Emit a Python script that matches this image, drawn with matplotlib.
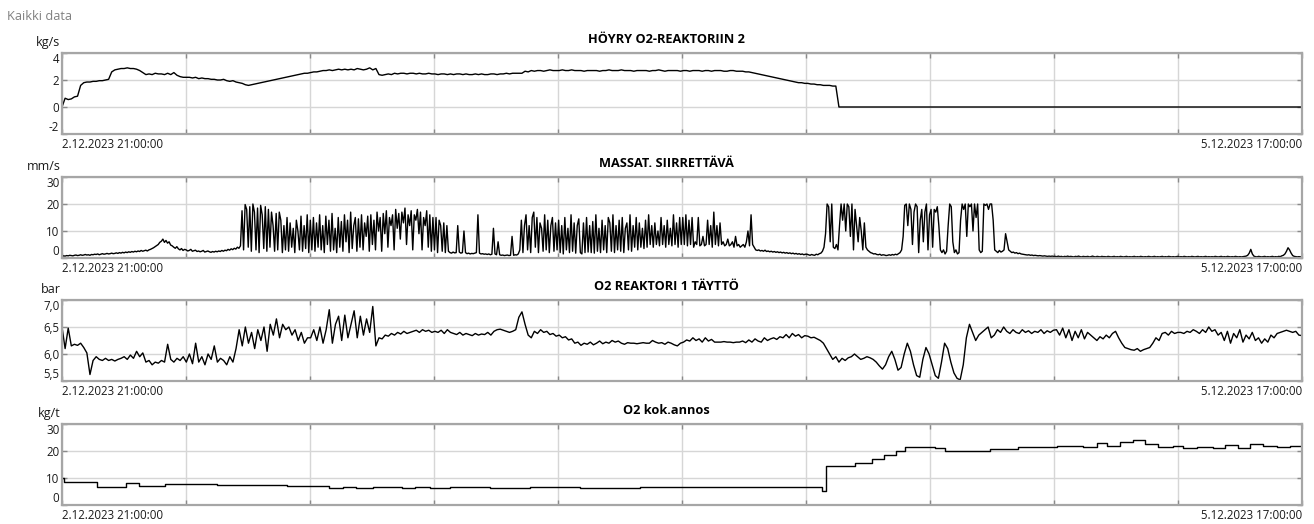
import numpy as np
import matplotlib.pyplot as plt

plt.rcParams['font.family'] = ['Open Sans', 'DejaVu Sans']

START_LABEL = "2.12.2023 21:00:00"
END_LABEL = "5.12.2023 17:00:00"
SPAN_H = 68.0  # hours from start label to end label

# steam to O2 reactor 2 [kg/s], 40 samples per grid column
steam_kgs = [
    0.0, 0.65, 0.55, 0.6, 0.75, 0.8, 1.6, 1.8, 1.85, 1.85, 1.9, 1.9, 1.95, 1.95, 2.0, 2.05, 2.6, 2.75, 2.8, 2.85,
    2.85, 2.9, 2.85, 2.85, 2.8, 2.7, 2.55, 2.4, 2.45, 2.4, 2.5, 2.45, 2.45, 2.4, 2.5, 2.4, 2.55, 2.35, 2.25, 2.2,
    2.2, 2.2, 2.15, 2.2, 2.1, 2.15, 2.1, 2.1, 2.05, 2.05, 2.0, 2.0, 2.05, 1.95, 1.9, 1.95, 1.85, 1.8, 1.75, 1.65,
    1.6, 1.65, 1.7, 1.75, 1.8, 1.85, 1.9, 1.95, 2.0, 2.05, 2.1, 2.15, 2.2, 2.25, 2.3, 2.35, 2.4, 2.45, 2.5, 2.5,
    2.55, 2.6, 2.6, 2.65, 2.7, 2.7, 2.75, 2.7, 2.75, 2.8, 2.75, 2.8, 2.75, 2.8, 2.75, 2.85, 2.8, 2.75, 2.8, 2.9,
    2.75, 2.85, 2.4, 2.35, 2.4, 2.45, 2.4, 2.5, 2.45, 2.5, 2.5, 2.45, 2.5, 2.5, 2.45, 2.5, 2.45, 2.45, 2.5, 2.45,
    2.45, 2.4, 2.45, 2.45, 2.4, 2.45, 2.4, 2.45, 2.45, 2.4, 2.45, 2.4, 2.4, 2.45, 2.4, 2.45, 2.4, 2.4, 2.45, 2.45,
    2.4, 2.45, 2.45, 2.5, 2.45, 2.5, 2.5, 2.5, 2.5, 2.65, 2.6, 2.7, 2.65, 2.7, 2.7, 2.65, 2.7, 2.75, 2.7, 2.7,
    2.7, 2.75, 2.7, 2.7, 2.75, 2.7, 2.7, 2.7, 2.65, 2.7, 2.7, 2.7, 2.7, 2.65, 2.7, 2.7, 2.75, 2.7, 2.7, 2.7,
    2.75, 2.7, 2.7, 2.7, 2.65, 2.7, 2.7, 2.7, 2.7, 2.65, 2.7, 2.7, 2.75, 2.7, 2.65, 2.7, 2.7, 2.7, 2.7, 2.65,
    2.7, 2.7, 2.65, 2.7, 2.7, 2.7, 2.65, 2.7, 2.7, 2.65, 2.7, 2.7, 2.7, 2.65, 2.65, 2.7, 2.7, 2.65, 2.65, 2.65,
    2.6, 2.6, 2.55, 2.5, 2.45, 2.4, 2.35, 2.3, 2.25, 2.2, 2.15, 2.1, 2.05, 2.0, 1.95, 1.9, 1.85, 1.8, 1.8, 1.75,
    1.75, 1.7, 1.7, 1.65, 1.65, 1.6, 1.6, 1.6, 1.55, 1.55, 0.0, 0.0, 0.0, 0.0, 0.0, 0.0, 0.0, 0.0, 0.0, 0.0,
    0.0, 0.0, 0.0, 0.0, 0.0, 0.0, 0.0, 0.0, 0.0, 0.0, 0.0, 0.0, 0.0, 0.0, 0.0, 0.0, 0.0, 0.0, 0.0, 0.0,
    0.0, 0.0, 0.0, 0.0, 0.0, 0.0, 0.0, 0.0, 0.0, 0.0, 0.0, 0.0, 0.0, 0.0, 0.0, 0.0, 0.0, 0.0, 0.0, 0.0,
    0.0, 0.0, 0.0, 0.0, 0.0, 0.0, 0.0, 0.0, 0.0, 0.0, 0.0, 0.0, 0.0, 0.0, 0.0, 0.0, 0.0, 0.0, 0.0, 0.0,
    0.0, 0.0, 0.0, 0.0, 0.0, 0.0, 0.0, 0.0, 0.0, 0.0, 0.0, 0.0, 0.0, 0.0, 0.0, 0.0, 0.0, 0.0, 0.0, 0.0,
    0.0, 0.0, 0.0, 0.0, 0.0, 0.0, 0.0, 0.0, 0.0, 0.0, 0.0, 0.0, 0.0, 0.0, 0.0, 0.0, 0.0, 0.0, 0.0, 0.0,
    0.0, 0.0, 0.0, 0.0, 0.0, 0.0, 0.0, 0.0, 0.0, 0.0, 0.0, 0.0, 0.0, 0.0, 0.0, 0.0, 0.0, 0.0, 0.0, 0.0,
    0.0, 0.0, 0.0, 0.0, 0.0, 0.0, 0.0, 0.0, 0.0, 0.0, 0.0, 0.0, 0.0, 0.0, 0.0, 0.0, 0.0, 0.0, 0.0, 0.0,
]

# pulp transfer speed [mm/s], 80 samples per grid column
transfer_mms = [
    # column 1
    0.6, 0.8, 0.7, 0.9, 0.8, 1.0, 0.9, 0.8, 1.0, 1.1, 0.9, 1.0, 1.2, 1.0, 1.1, 1.3, 1.1, 1.2, 1.0, 1.3,
    1.2, 1.4, 1.3, 1.5, 1.2, 1.4, 1.6, 1.4, 1.5, 1.7, 1.5, 1.6, 1.8, 1.6, 1.7, 1.9, 1.7, 2.0, 1.8, 2.1,
    1.9, 2.2, 2.0, 2.3, 2.1, 2.4, 2.2, 2.5, 2.3, 2.6, 2.4, 2.8, 2.5, 2.7, 2.9, 2.6, 3.0, 3.2, 3.5, 3.8,
    4.2, 4.6, 5.0, 5.8, 6.2, 7.0, 5.8, 6.5, 5.5, 6.0, 4.8, 4.5, 4.0, 3.6, 4.2, 3.4, 3.0, 3.5, 2.8, 3.2,
    # column 2
    3.0, 2.6, 2.8, 3.2, 2.5, 2.7, 2.9, 2.4, 2.6, 2.3, 2.5, 2.8, 2.2, 2.4, 2.6, 2.3, 2.1, 2.4, 2.2, 2.5,
    2.3, 2.6, 2.4, 2.8, 2.5, 2.9, 2.7, 3.2, 2.9, 3.4, 3.1, 3.6, 3.3, 4.0, 3.6, 4.5,
    17.5, 3.0, 19.8, 18.0, 4.0, 19.0, 2.5, 20.0, 17.0, 3.0, 18.5, 2.0, 19.5, 16.0, 3.5, 19.0, 2.5, 18.0, 4.0, 17.0,
    12.0, 2.5, 16.5, 3.0, 17.0, 14.0, 2.0, 12.0, 3.0, 15.0, 2.5, 13.0, 4.0, 11.0, 2.0, 14.0, 10.0, 3.0, 15.5, 2.5,
    12.0, 3.5, 16.0, 2.0,
    # column 3
    14.0, 3.0, 15.0, 2.5, 13.0, 4.0, 16.0, 3.0, 12.0, 2.0, 15.5, 5.0, 14.0, 2.5, 16.5, 3.0, 11.0, 2.0, 15.0, 4.0,
    13.5, 2.5, 16.0, 6.0, 14.0, 2.0, 17.0, 3.5, 12.0, 15.0, 2.5, 14.5, 4.0, 16.0, 3.0, 13.0, 8.0, 15.5, 2.5, 16.0,
    5.0, 14.0, 3.0, 17.0, 10.0, 15.0, 2.5, 16.5, 9.0, 17.5, 4.0, 15.0, 12.0, 16.0, 3.0, 18.0, 11.0, 16.5, 7.0, 17.0,
    13.0, 18.5, 5.0, 16.0, 12.0, 17.5, 3.0, 16.0, 14.0, 18.0, 9.0, 17.0, 3.0, 15.0, 12.0, 17.5, 4.0, 16.0, 2.5, 15.0,
    # column 4
    3.0, 15.0, 2.0, 14.0, 12.0, 2.5, 13.0, 2.0, 12.0, 2.5, 2.0, 1.8, 2.2, 1.9, 2.0, 12.0, 2.2, 1.8, 2.0, 10.0,
    2.0, 1.6, 1.8, 1.5, 1.7, 1.6, 1.8, 2.0, 16.0, 1.8, 1.5, 1.6, 1.4, 1.5, 1.3, 1.5, 1.2, 1.4, 11.0, 1.5,
    1.2, 6.0, 1.2, 1.0, 1.1, 0.9, 1.0, 1.1, 0.9, 1.0, 8.0, 1.0, 1.2, 1.1, 1.5, 3.0, 14.0, 2.0, 12.0, 16.0,
    3.0, 12.0, 2.0, 15.0, 17.0, 4.0, 15.0, 2.0, 13.0, 11.0, 2.5, 16.0, 3.0, 14.0, 2.0, 12.0, 15.0, 2.5, 13.0, 3.0,
    # column 5
    14.0, 2.0, 12.0, 1.5, 15.0, 3.0, 11.0, 2.0, 16.0, 2.5, 13.0, 1.8, 12.0, 14.5, 2.0, 1.5, 13.0, 2.0, 15.0, 2.2,
    12.0, 2.0, 13.5, 1.8, 16.0, 2.5, 11.0, 2.0, 14.0, 3.0, 12.0, 2.0, 15.0, 13.0, 2.5, 16.0, 2.0, 12.0, 3.0, 14.0,
    2.5, 15.0, 2.0, 11.0, 13.0, 3.0, 16.0, 2.5, 12.0, 4.0, 15.0, 3.0, 13.0, 4.0, 11.0, 3.5, 14.0, 4.0, 16.0, 5.0,
    12.0, 4.0, 13.0, 5.0, 10.0, 4.5, 15.0, 5.0, 12.0, 4.0, 14.0, 5.0, 11.0, 4.5, 16.0, 5.0, 13.0, 4.0, 15.0, 5.0,
    # column 6
    15.0, 5.0, 16.0, 4.5, 14.0, 5.0, 15.0, 4.0, 6.0, 5.0, 15.0, 4.5, 5.0, 8.0, 4.5, 5.0, 14.0, 5.0, 12.0, 4.0,
    17.0, 5.0, 12.0, 4.5, 13.0, 5.0, 6.0, 4.5, 5.0, 7.0, 4.5, 5.0, 6.0, 4.0, 8.0, 4.5, 5.0, 4.0, 4.5, 5.0,
    4.0, 6.0, 10.0, 4.5, 16.0, 5.0, 4.0, 3.0, 2.8, 3.0, 2.6, 2.8, 2.5, 2.9, 2.4, 2.6, 2.3, 2.5, 2.2, 2.4,
    2.1, 2.3, 2.0, 2.2, 1.9, 2.1, 1.8, 2.0, 1.7, 1.9, 1.6, 1.8, 1.5, 1.7, 1.4, 1.6, 1.3, 1.5, 1.2, 1.4,
    # column 7
    1.4, 1.2, 1.0, 1.3, 1.1, 1.0, 1.4, 1.2, 1.6, 1.8, 2.5, 4.0, 9.0, 20.0, 19.0, 6.0, 20.0, 4.0, 3.5, 5.0,
    3.0, 12.0, 20.0, 14.0, 20.0, 10.0, 20.0, 19.0, 8.0, 20.0, 3.0, 18.0, 12.0, 6.0, 15.0, 10.0, 3.0, 13.0, 4.0, 3.0,
    2.5, 2.0, 1.8, 1.5, 1.6, 1.3, 1.2, 1.4, 1.0, 1.2, 1.1, 0.9, 1.0, 1.2, 1.0, 1.3, 1.1, 1.4, 1.2, 1.6,
    2.0, 3.0, 8.0, 19.5, 20.0, 12.0, 20.0, 18.0, 5.0, 17.0, 20.0, 19.0, 2.0, 14.0, 18.0, 6.0, 17.0, 20.0, 3.0, 16.0,
    # column 8
    18.0, 4.0, 18.0, 17.0, 19.0, 12.0, 3.0, 2.0, 3.0, 1.5, 2.5, 12.0, 20.0, 19.0, 6.0, 2.0, 3.0, 1.5, 2.0, 14.0,
    20.0, 18.0, 20.0, 8.0, 20.0, 19.0, 20.0, 10.0, 20.0, 15.0, 20.0, 3.0, 2.0, 2.5, 20.0, 19.5, 20.0, 18.0, 20.0, 20.0,
    14.0, 3.0, 2.5, 2.0, 2.8, 2.2, 2.5, 3.0, 9.0, 6.0, 3.0, 2.5, 2.0, 2.2, 1.8, 2.0, 1.6, 1.8, 1.5, 1.4,
    1.3, 1.2, 1.1, 1.2, 1.0, 1.1, 0.9, 1.0, 0.9, 0.8, 0.9, 0.8, 0.7, 0.8, 0.7, 0.6, 0.7, 0.6, 0.7, 0.6,
    # column 9
    0.6, 0.5, 0.7, 0.5, 0.6, 0.4, 0.6, 0.5, 0.7, 0.5, 0.6, 0.5, 0.4, 0.6, 0.5, 0.7, 0.5, 0.4, 0.6, 0.5,
    0.5, 0.6, 0.4, 0.5, 0.7, 0.5, 0.4, 0.6, 0.5, 0.4, 0.6, 0.5, 0.5, 0.4, 0.6, 0.5, 0.4, 0.5, 0.6, 0.4,
    0.5, 0.4, 0.6, 0.5, 0.4, 0.5, 0.6, 0.4, 0.5, 0.4, 0.5, 0.6, 0.4, 0.5, 0.4, 0.6, 0.5, 0.4, 0.5, 0.4,
    0.6, 0.5, 0.4, 0.5, 0.6, 0.4, 0.5, 0.4, 0.5, 0.6, 0.4, 0.5, 0.4, 0.6, 0.5, 0.4, 0.5, 0.4, 0.5, 0.6,
    # column 10
    0.4, 0.5, 0.4, 0.6, 0.5, 0.4, 0.5, 0.4, 0.6, 0.5, 0.4, 0.5, 0.6, 0.4, 0.5, 0.4, 0.5, 0.6, 0.4, 0.5,
    0.4, 0.5, 0.4, 0.6, 0.5, 0.4, 0.5, 0.6, 0.4, 0.5, 0.4, 0.6, 0.5, 0.4, 0.5, 0.4, 0.6, 0.5, 0.4, 0.5,
    0.4, 0.5, 0.6, 0.7, 1.0, 1.8, 3.2, 1.5, 0.7, 0.5, 0.4, 0.6, 0.5, 0.4, 0.5, 0.6, 0.4, 0.5, 0.4, 0.5,
    0.6, 0.4, 0.5, 0.4, 0.6, 0.5, 0.8, 1.0, 1.5, 2.5, 3.8, 3.0, 1.8, 0.9, 0.6, 0.5, 0.4, 0.5, 0.4, 0.5,
]

# reactor 1 fill pressure [bar], 40 samples per grid column
fill_bar = [
    6.50, 6.10, 6.48, 6.15, 6.18, 6.16, 6.20, 6.12, 6.02, 5.62, 5.88, 5.95, 5.90, 5.88, 5.92, 5.88, 5.90, 5.87, 5.90, 5.92,
    5.95, 5.90, 5.98, 5.92, 6.05, 5.95, 6.02, 5.85, 5.88, 5.80, 5.85, 5.83, 5.88, 5.85, 6.18, 5.90, 5.85, 5.92, 5.88, 5.95,
    5.85, 6.00, 5.82, 6.20, 5.85, 5.95, 5.80, 6.00, 5.90, 6.15, 5.85, 5.92, 5.88, 5.80, 5.95, 5.85, 6.10, 6.45, 6.15, 6.50,
    6.20, 6.40, 6.10, 6.45, 6.25, 6.50, 6.05, 6.55, 6.35, 6.65, 6.30, 6.55, 6.45, 6.50, 6.35, 6.45, 6.25, 6.40, 6.20, 6.30,
    6.30, 6.45, 6.25, 6.50, 6.20, 6.45, 6.82, 6.20, 6.55, 6.70, 6.25, 6.72, 6.30, 6.55, 6.80, 6.30, 6.70, 6.35, 6.65, 6.40,
    6.88, 6.15, 6.30, 6.28, 6.35, 6.33, 6.38, 6.35, 6.40, 6.37, 6.42, 6.38, 6.40, 6.42, 6.44, 6.40, 6.45, 6.42, 6.44, 6.40,
    6.42, 6.40, 6.44, 6.38, 6.45, 6.40, 6.38, 6.36, 6.40, 6.35, 6.38, 6.36, 6.34, 6.38, 6.35, 6.37, 6.36, 6.40, 6.35, 6.42,
    6.45, 6.46, 6.44, 6.42, 6.40, 6.42, 6.45, 6.68, 6.78, 6.55, 6.35, 6.30, 6.42, 6.38, 6.45, 6.40, 6.42, 6.36, 6.38, 6.33,
    6.35, 6.30, 6.32, 6.26, 6.28, 6.20, 6.22, 6.16, 6.20, 6.18, 6.22, 6.17, 6.20, 6.24, 6.19, 6.22, 6.20, 6.25, 6.22, 6.24,
    6.20, 6.18, 6.21, 6.20, 6.20, 6.19, 6.20, 6.21, 6.20, 6.20, 6.25, 6.22, 6.20, 6.21, 6.18, 6.22, 6.20, 6.17, 6.15, 6.20,
    6.22, 6.26, 6.24, 6.30, 6.25, 6.28, 6.22, 6.30, 6.24, 6.27, 6.22, 6.22, 6.22, 6.23, 6.22, 6.22, 6.21, 6.22, 6.22, 6.24,
    6.21, 6.26, 6.22, 6.28, 6.24, 6.22, 6.30, 6.25, 6.28, 6.30, 6.27, 6.32, 6.30, 6.36, 6.30, 6.38, 6.33, 6.36, 6.30, 6.34,
    6.33, 6.30, 6.31, 6.28, 6.25, 6.20, 6.10, 6.00, 5.90, 5.95, 5.85, 5.92, 5.88, 5.93, 5.95, 6.00, 5.95, 5.90, 5.92, 5.95,
    5.93, 5.90, 5.85, 5.78, 5.72, 5.80, 5.95, 6.05, 5.90, 5.70, 5.75, 6.00, 6.20, 6.05, 5.80, 5.60, 5.57, 5.90, 6.12, 6.00,
    5.80, 5.60, 5.55, 5.85, 6.20, 6.10, 5.85, 5.65, 5.55, 5.52, 5.80, 6.30, 6.55, 6.40, 6.25, 6.35, 6.40, 6.45, 6.50, 6.30,
    6.35, 6.45, 6.40, 6.50, 6.42, 6.38, 6.45, 6.40, 6.38, 6.45, 6.40, 6.43, 6.38, 6.42, 6.40, 6.45, 6.38, 6.43, 6.40, 6.44,
    6.45, 6.35, 6.48, 6.30, 6.45, 6.25, 6.42, 6.30, 6.45, 6.28, 6.40, 6.35, 6.30, 6.25, 6.32, 6.28, 6.35, 6.30, 6.38, 6.42,
    6.30, 6.20, 6.12, 6.10, 6.08, 6.07, 6.10, 6.05, 6.08, 6.10, 6.12, 6.20, 6.30, 6.25, 6.38, 6.40, 6.35, 6.42, 6.38, 6.40,
    6.40, 6.38, 6.42, 6.40, 6.45, 6.42, 6.38, 6.45, 6.40, 6.50, 6.42, 6.45, 6.35, 6.40, 6.25, 6.42, 6.20, 6.38, 6.30, 6.45,
    6.22, 6.35, 6.28, 6.40, 6.25, 6.30, 6.20, 6.28, 6.22, 6.35, 6.30, 6.38, 6.40, 6.42, 6.44, 6.42, 6.40, 6.42, 6.35, 6.34,
]

# O2 dose [kg/t]: hour of each setpoint change and the new level
dose_hours = [
    0.0, 0.11, 1.92, 3.51, 4.22, 5.65, 8.5, 12.34, 14.64, 15.41, 16.12, 17.05, 18.65, 19.36, 20.18,
    21.28, 23.47, 25.66, 28.41, 31.70, 34.99, 38.28, 40.20, 41.68, 41.90, 43.49, 44.42, 45.08, 45.74,
    46.23, 47.87, 48.42, 50.89, 52.43, 54.57, 55.99, 56.76, 57.31, 58.02, 58.73, 59.39, 60.10, 60.93,
    61.47, 62.24, 63.12, 63.78, 64.49, 65.15, 65.86, 66.63, 67.34, 68.0,
]
dose_kgt = [
    10.0, 8.4, 6.8, 8.0, 7.2, 7.6, 7.4, 6.9, 6.4, 6.7, 6.3, 6.6, 6.2, 6.6, 6.2,
    6.5, 6.3, 6.6, 6.4, 6.7, 6.5, 6.8, 6.6, 5.2, 14.5, 15.5, 17.0, 18.5, 20.0,
    21.5, 21.0, 20.0, 20.8, 21.4, 21.9, 21.4, 22.8, 21.9, 23.5, 24.1, 22.5, 21.4, 21.9,
    21.1, 21.4, 21.1, 22.1, 21.1, 22.6, 22.0, 21.4, 22.0, 22.0,
]

titles = ["HÖYRY O2-REAKTORIIN 2", "MASSAT. SIIRRETTÄVÄ", "O2 REAKTORI 1 TÄYTTÖ", "O2 kok.annos"]
units = ["kg/s", "mm/s", "bar", "kg/t"]
yticks = [[-2, 0, 2, 4], [0, 10, 20, 30], [5.5, 6.0, 6.5, 7.0], [0, 10, 20, 30]]
ytick_labels = [["-2", "0", "2", "4"], ["0", "10", "20", "30"],
                ["5,5", "6,0", "6,5", "7,0"], ["0", "10", "20", "30"]]

W, H = 1314, 524
fig = plt.figure(figsize=(W / 100, H / 100), dpi=100)
fig.patch.set_facecolor("white")
fig.text(7 / W, 1 - 16 / H, "Kaikki data", color="#808080", fontsize=9.2, va="center")

# plot boxes in pixels: left, top, right; each box is box_h tall
left_px, right_px = 62, 1302
tops = [53, 177, 300, 424]
box_h = 81
title_x = (666 - left_px) / (right_px - left_px)

GRID = "#d6d6d6"
FRAME = "#a6a6a6"

axes = []
for i in range(4):
    ax = fig.add_axes([left_px / W, 1 - (tops[i] + box_h) / H,
                       (right_px - left_px) / W, box_h / H])
    axes.append(ax)

t = np.linspace(0, SPAN_H, len(steam_kgs))
axes[0].plot(t, steam_kgs, color="black", lw=1.0)
t = np.linspace(0, SPAN_H, len(transfer_mms))
axes[1].plot(t, transfer_mms, color="black", lw=1.0)
t = np.linspace(0, SPAN_H, len(fill_bar))
axes[2].plot(t, fill_bar, color="black", lw=1.0)
axes[3].plot(dose_hours, dose_kgt, color="black", lw=1.0, drawstyle="steps-post")

for i, ax in enumerate(axes):
    ax.set_xlim(0, SPAN_H)
    ax.set_ylim(yticks[i][0], yticks[i][-1])
    ax.set_yticks(yticks[i])
    ax.set_yticklabels(ytick_labels[i])
    ax.set_xticks(np.linspace(0, SPAN_H, 11))
    xl = [""] * 11
    xl[0] = START_LABEL
    xl[-1] = END_LABEL
    ax.set_xticklabels(xl)
    ax.grid(True, color=GRID, lw=1.0)
    ax.set_axisbelow(True)
    ax.tick_params(direction="in", length=3.5, width=1.0, color="#8a8a8a",
                   top=True, right=True, labelsize=8.3, labelcolor="#1a1a1a")
    ax.tick_params(axis="y", pad=2)
    ax.tick_params(axis="x", pad=3)
    for s in ax.spines.values():
        s.set_color(FRAME)
        s.set_linewidth(1.6)
    ax.set_title(titles[i], fontsize=9.2, fontweight="bold", pad=7, x=title_x)

    xt = ax.get_xticklabels()
    xt[0].set_ha("left")
    xt[-1].set_ha("right")
    ticks = ax.yaxis.get_major_ticks()
    ticks[0].label1.set_va("bottom")
    ticks[-1].label1.set_va("top")

    ax.annotate(units[i], xy=(0, 1), xycoords="axes fraction", xytext=(-1, 5),
                textcoords="offset points", ha="right", va="baseline",
                fontsize=9, color="#1a1a1a")

fig.savefig("out.png", dpi=100)
